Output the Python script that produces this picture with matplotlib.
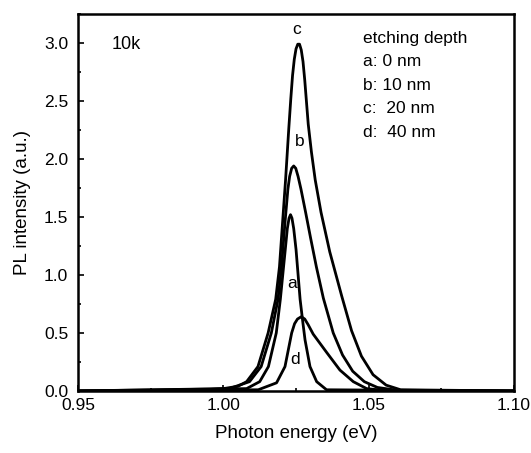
import matplotlib
matplotlib.use("Agg")
import matplotlib.pyplot as plt
from matplotlib.ticker import MultipleLocator

plt.rcParams['font.family'] = ['Liberation Sans', 'DejaVu Sans']

# curves (photon energy in eV, PL intensity in a.u.)
e_a = [0.95, 1.008, 1.0125, 1.0155, 1.0182, 1.0196, 1.0213, 1.0220, 1.0226, 1.0231, 1.0236,
       1.0242, 1.0250, 1.0264, 1.0273, 1.0281, 1.0298, 1.0321, 1.0355, 1.10]
i_a = [0.0, 0.02, 0.08, 0.21, 0.50, 0.79, 1.22, 1.40, 1.49, 1.52, 1.49,
       1.40, 1.22, 0.79, 0.60, 0.44, 0.21, 0.08, 0.01, 0.0]

e_b = [0.95, 1.002, 1.009, 1.0130, 1.0165, 1.0188, 1.0200, 1.0212, 1.0222, 1.0228, 1.0235,
       1.0242, 1.0249, 1.0257, 1.0267, 1.0283, 1.0300, 1.0320, 1.0344, 1.0378, 1.0410,
       1.0445, 1.0485, 1.0530, 1.060, 1.10]
i_b = [0.0, 0.02, 0.08, 0.21, 0.50, 0.79, 1.07, 1.45, 1.74, 1.85, 1.92,
       1.94, 1.92, 1.85, 1.74, 1.54, 1.32, 1.07, 0.80, 0.50, 0.31,
       0.17, 0.08, 0.03, 0.005, 0.0]

e_c = [0.95, 0.99, 1.000, 1.005, 1.008, 1.0119, 1.0154, 1.0180, 1.0193, 1.0205, 1.0214,
       1.0225, 1.0232, 1.0238, 1.0244, 1.0250, 1.0256, 1.0262, 1.0268, 1.0274, 1.0280,
       1.0292, 1.0303, 1.0316, 1.0336, 1.0366, 1.0407, 1.0441, 1.0475, 1.0515, 1.0560,
       1.0610, 1.10]
i_c = [0.0, 0.005, 0.02, 0.04, 0.08, 0.21, 0.50, 0.79, 1.07, 1.50, 1.82,
       2.26, 2.52, 2.72, 2.86, 2.95, 2.99, 2.99, 2.94, 2.84, 2.68,
       2.30, 2.06, 1.82, 1.54, 1.20, 0.82, 0.52, 0.30, 0.14, 0.05,
       0.01, 0.0]

e_d = [0.95, 1.012, 1.0183, 1.0212, 1.0235, 1.0245, 1.0255, 1.0268, 1.0280, 1.0292, 1.0309,
       1.0356, 1.0401, 1.0447, 1.0493, 1.055, 1.10]
i_d = [0.0, 0.01, 0.07, 0.21, 0.50, 0.58, 0.62, 0.64, 0.62, 0.57, 0.49,
       0.33, 0.18, 0.08, 0.02, 0.005, 0.0]

legend_lines = ["etching depth", "a: 0 nm", "b: 10 nm", "c:  20 nm", "d:  40 nm"]

fig = plt.figure(figsize=(5.31, 4.53), dpi=100)
ax = fig.add_axes([0.147, 0.137, 0.821, 0.832])

for e, i in [(e_a, i_a), (e_b, i_b), (e_c, i_c), (e_d, i_d)]:
    ax.plot(e, i, color="black", lw=2.0)

ax.set_xlim(0.95, 1.10)
ax.set_ylim(0.0, 3.25)
ax.xaxis.set_major_locator(MultipleLocator(0.05))
ax.xaxis.set_minor_locator(MultipleLocator(0.025))
ax.yaxis.set_major_locator(MultipleLocator(0.5))
ax.yaxis.set_minor_locator(MultipleLocator(0.25))
ax.tick_params(which="both", direction="in", top=False, right=False, labelsize=12.5)
ax.tick_params(which="major", length=4, width=1.2)
ax.tick_params(which="minor", length=2.5, width=1.2)
ax.tick_params(axis="x", pad=5)
ax.tick_params(axis="y", pad=7)
ax.xaxis.set_major_formatter(plt.FormatStrFormatter("%.2f"))
ax.yaxis.set_major_formatter(plt.FormatStrFormatter("%.1f"))
for s in ax.spines.values():
    s.set_linewidth(1.8)

ax.set_xlabel("Photon energy (eV)", fontsize=13.5, labelpad=9)
ax.set_ylabel("PL intensity (a.u.)", fontsize=13.5, labelpad=9)

ax.text(1.0253, 3.12, "c", fontsize=12.5, ha="center", va="center")
ax.text(1.0264, 2.15, "b", fontsize=12.5, ha="center", va="center")
ax.text(1.0235, 0.93, "a", fontsize=12.5, ha="center", va="center")
ax.text(1.0247, 0.27, "d", fontsize=12.5, ha="center", va="center")
ax.text(0.9665, 2.99, "10k", fontsize=13, ha="center", va="center")

for k, line in enumerate(legend_lines):
    ax.text(0.654, 0.936 - k * 0.0623, line, transform=ax.transAxes,
            fontsize=12.5, ha="left", va="center")

fig.savefig("out.png", dpi=100)
